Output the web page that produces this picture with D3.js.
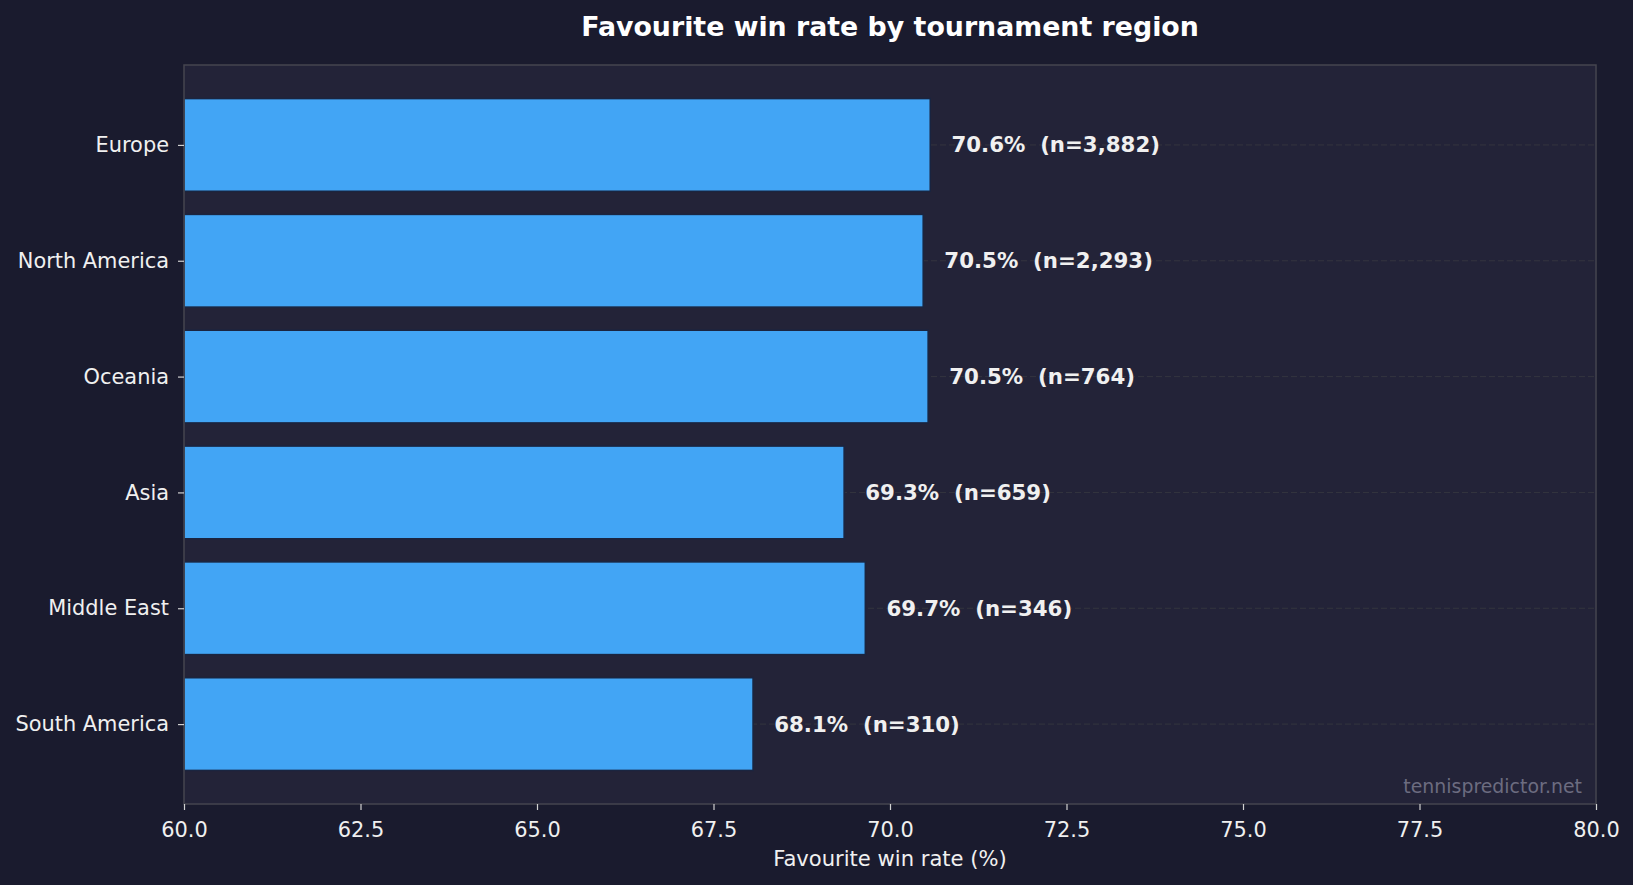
<!DOCTYPE html>
<html lang="en">
<head>
    <meta charset="UTF-8">
    <title>Favourite win rate by tournament region</title>
    <script src="https://cdn.jsdelivr.net/npm/d3@7"></script>
    <style>
        body { margin: 0; background: #1a1b2e; }
        svg { display: block; font-family: "DejaVu Sans", sans-serif; }
        .axis text { fill: #f0f0f0; font-size: 20.9px; }
        .axis line { stroke: #d0d0d0; stroke-width: 1.2; }
        .axis path { display: none; }
    </style>
</head>
<body>
    <script type="text/javascript">
        // data, top to bottom
        let regions = ["Europe", "North America", "Oceania", "Asia", "Middle East", "South America"]
        let winRates = [70.57, 70.47, 70.54, 69.35, 69.65, 68.06]
        let rateLabels = ["70.6%", "70.5%", "70.5%", "69.3%", "69.7%", "68.1%"]
        let counts = [3882, 2293, 764, 659, 346, 310]
        let xTicks = [60, 62.5, 65, 67.5, 70, 72.5, 75, 77.5, 80]

        let w = 1633, h = 885
        let plotLeft = 184, plotRight = 1596, plotTop = 65, plotBottom = 804

        let svg = d3.select("body").append("svg")
            .attr("width", w)
            .attr("height", h)

        svg.append("rect")
            .attr("width", w).attr("height", h)
            .attr("fill", "#1a1b2e")

        svg.append("rect")
            .attr("x", plotLeft).attr("y", plotTop)
            .attr("width", plotRight - plotLeft).attr("height", plotBottom - plotTop)
            .attr("fill", "#232338")

        let xScale = d3.scaleLinear()
            .domain([60, 80])
            .range([plotLeft, plotRight])

        // matplotlib style categorical axis: bar height 0.8 with 5% margins
        let n = regions.length
        let pad = (n - 1 + 0.8) * 0.05 + 0.4
        let yIdx = d3.scaleLinear()
            .domain([-pad, n - 1 + pad])
            .range([plotTop, plotBottom])
        let barH = yIdx(0.8) - yIdx(0)

        // dashed grid at each category
        svg.append("g").selectAll("line")
            .data(regions)
            .enter()
            .append("line")
            .attr("x1", plotLeft).attr("x2", plotRight)
            .attr("y1", (d, i) => yIdx(i)).attr("y2", (d, i) => yIdx(i))
            .attr("stroke", "#34353f")
            .attr("stroke-width", 1)
            .attr("stroke-dasharray", "6,3")

        svg.append("g").selectAll("rect")
            .data(winRates)
            .enter()
            .append("rect")
            .attr("x", xScale(60))
            .attr("y", (d, i) => yIdx(i) - barH / 2)
            .attr("width", (d) => xScale(d) - xScale(60))
            .attr("height", barH)
            .attr("fill", "#42a5f5")
            .attr("stroke", "#1a2540")
            .attr("stroke-width", 1.5)

        let fmt = d3.format(",")
        svg.append("g").selectAll("text")
            .data(winRates)
            .enter()
            .append("text")
            .attr("x", (d) => xScale(d + 0.3))
            .attr("y", (d, i) => yIdx(i))
            .attr("dy", "0.35em")
            .attr("fill", "#f0f0f0")
            .attr("font-weight", "bold")
            .attr("font-size", "21.3px")
            .style("white-space", "pre")
            .text((d, i) => rateLabels[i] + "  (n=" + fmt(counts[i]) + ")")

        // frame
        svg.append("rect")
            .attr("x", plotLeft).attr("y", plotTop)
            .attr("width", plotRight - plotLeft).attr("height", plotBottom - plotTop)
            .attr("fill", "none")
            .attr("stroke", "#45454f")
            .attr("stroke-width", 1.5)

        let xAxis = d3.axisBottom(xScale)
            .tickValues(xTicks)
            .tickFormat(d3.format(".1f"))
            .tickSize(6)
            .tickPadding(12)

        svg.append("g")
            .attr("class", "axis")
            .attr("transform", "translate(0," + plotBottom + ")")
            .call(xAxis)
            .attr("font-family", "DejaVu Sans")

        let yAxis = d3.axisLeft(d3.scalePoint().domain(regions).range([yIdx(0), yIdx(n - 1)]))
            .tickSize(6)
            .tickPadding(9)

        svg.append("g")
            .attr("class", "axis")
            .attr("transform", "translate(" + plotLeft + ",0)")
            .call(yAxis)
            .attr("font-family", "DejaVu Sans")

        svg.append("text")
            .attr("x", (plotLeft + plotRight) / 2)
            .attr("y", 866)
            .attr("text-anchor", "middle")
            .attr("fill", "#f0f0f0")
            .attr("font-size", "21.1px")
            .text("Favourite win rate (%)")

        svg.append("text")
            .attr("x", (plotLeft + plotRight) / 2)
            .attr("y", 36)
            .attr("text-anchor", "middle")
            .attr("fill", "#ffffff")
            .attr("font-weight", "bold")
            .attr("font-size", "26.8px")
            .text("Favourite win rate by tournament region")

        svg.append("text")
            .attr("x", plotRight - 14)
            .attr("y", plotBottom - 11)
            .attr("text-anchor", "end")
            .attr("fill", "#6c6c80")
            .attr("font-size", "18.9px")
            .text("tennispredictor.net")
    </script>
</body>
</html>
